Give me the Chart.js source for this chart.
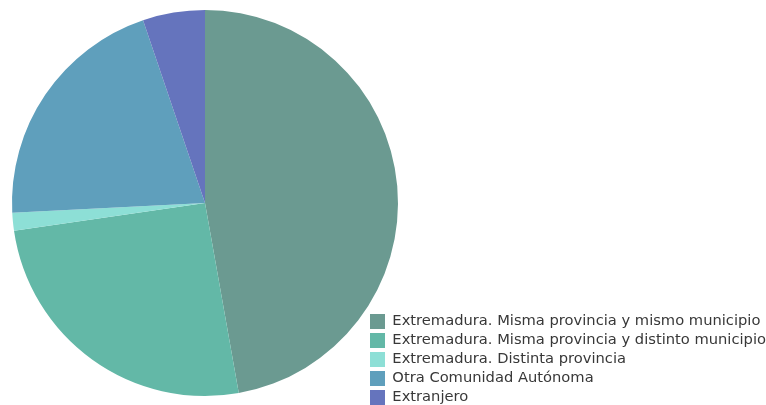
<!DOCTYPE html>
<html>
<head>
<meta charset="utf-8">
<script src="https://cdn.jsdelivr.net/npm/chart.js@4/dist/chart.umd.min.js"></script>
<style>
  html, body { margin: 0; padding: 0; background: #ffffff; }
  #wrap { width: 766px; height: 405px; }
</style>
</head>
<body>
<div id="wrap"><canvas id="c" width="766" height="405"></canvas></div>
<script>
const categories = [
  "Extremadura. Misma provincia y mismo municipio",
  "Extremadura. Misma provincia y distinto municipio",
  "Extremadura. Distinta provincia",
  "Otra Comunidad Autónoma",
  "Extranjero"
];
const values = [47.2, 25.5, 1.5, 20.6, 5.2];
const colors = ["#6b9a91", "#63b8a7", "#8ddfd6", "#5f9fbc", "#6574bd"];

const layoutHack = {
  id: 'layoutHack',
  afterLayout(chart) {
    const ca = chart.chartArea;
    ca.left = 12; ca.right = 398; ca.top = 10; ca.bottom = 396;
    ca.width = ca.right - ca.left; ca.height = ca.bottom - ca.top;
    const lg = chart.legend;
    lg.left = 366;
    lg.top += 4; lg.bottom += 4;
  }
};

new Chart(document.getElementById('c'), {
  type: 'pie',
  data: {
    labels: categories,
    datasets: [{
      data: values,
      backgroundColor: colors,
      borderWidth: 0
    }]
  },
  options: {
    responsive: false,
    animation: false,
    layout: { padding: 0 },
    plugins: {
      tooltip: { enabled: false },
      legend: {
        position: 'right',
        align: 'end',
        labels: {
          boxWidth: 15,
          boxHeight: 15,
          padding: 4,
          color: '#383838',
          font: { family: 'DejaVu Sans', size: 14.7 }
        }
      }
    }
  },
  plugins: [layoutHack]
});
</script>
</body>
</html>
